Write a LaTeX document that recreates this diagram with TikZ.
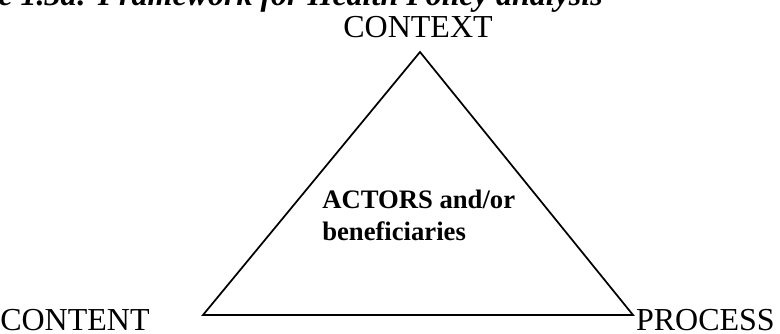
\documentclass[tikz,border=0pt]{standalone}
\usepackage{fontspec}
\setmainfont{Liberation Serif}
\begin{document}
\begin{tikzpicture}[x=0.75pt,y=-0.75pt,
  corner/.style={font=\fontsize{24}{28}\selectfont, inner sep=0pt},
  actors/.style={font=\fontsize{20}{24}\selectfont\bfseries, inner sep=0pt, anchor=base west},
  titletext/.style={font=\fontsize{24}{28}\selectfont\bfseries\itshape, inner sep=0pt, anchor=base east},
  side/.style={line width=1.3pt, line join=miter}]
\useasboundingbox (0,0) rectangle (780,333);
\clip (0,0) rectangle (780,333);
% caption line, cut by the top edge
\node[titletext] (title) at (603,5) {Figure 1.3a: Framework for Health Policy analysis};
% triangle corners
\coordinate (apex) at (420,52);
\coordinate (left) at (203,315);
\coordinate (right) at (633,315);
\draw[side] (apex) -- (left) -- (right) -- cycle;
% corner labels
\node[corner, anchor=base] (context) at (418,37) {CONTEXT};
\node[corner, anchor=base west] (content) at (0,330) {CONTENT};
\node[corner, anchor=base east] (process) at (775,330) {PROCESS};
% centre label
\node[actors] (actors1) at (322,208) {ACTORS and/or};
\node[actors] (actors2) at (322,240) {beneficiaries};
\end{tikzpicture}
\end{document}
